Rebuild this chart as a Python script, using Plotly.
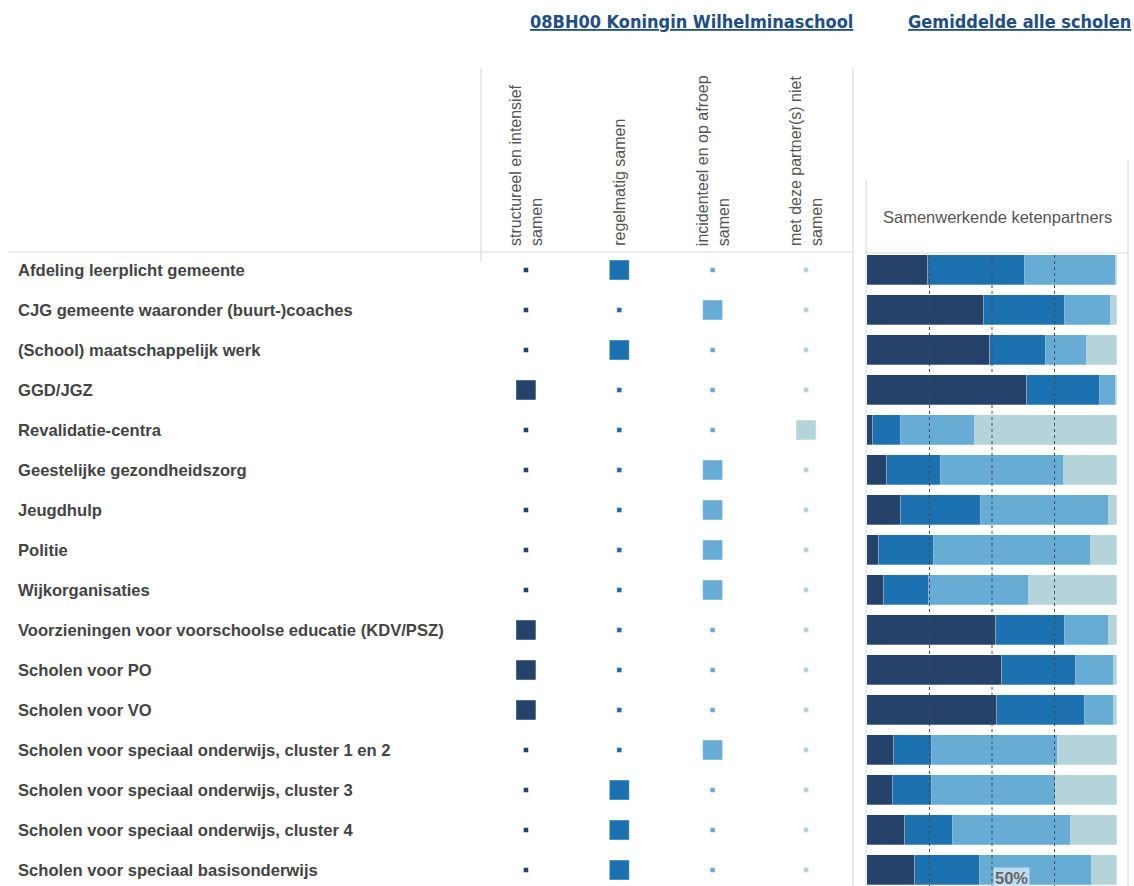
import plotly.graph_objects as go

W, H = 1134, 886

partners = [
    "Afdeling leerplicht gemeente",
    "CJG gemeente waaronder (buurt-)coaches",
    "(School) maatschappelijk werk",
    "GGD/JGZ",
    "Revalidatie-centra",
    "Geestelijke gezondheidszorg",
    "Jeugdhulp",
    "Politie",
    "Wijkorganisaties",
    "Voorzieningen voor voorschoolse educatie (KDV/PSZ)",
    "Scholen voor PO",
    "Scholen voor VO",
    "Scholen voor speciaal onderwijs, cluster 1 en 2",
    "Scholen voor speciaal onderwijs, cluster 3",
    "Scholen voor speciaal onderwijs, cluster 4",
    "Scholen voor speciaal basisonderwijs",
]

categories = [
    "structureel en intensief<br>samen",
    "regelmatig samen",
    "incidenteel en op afroep<br>samen",
    "met deze partner(s) niet<br>samen",
]

# answer of the school: index into categories
school_answer = [1, 2, 1, 0, 3, 2, 2, 2, 2, 0, 0, 0, 2, 1, 1, 1]

# average of all schools (%)
avg_structureel = [24.5, 46.7, 49.1, 64.1, 2.5, 8.0, 13.5, 4.9, 6.8, 51.5, 53.9, 52.0, 10.9, 10.4, 15.2, 19.3]
avg_regelmatig = [38.5, 32.6, 22.4, 29.1, 11.0, 21.7, 32.0, 21.8, 18.1, 27.8, 29.7, 35.2, 15.1, 15.6, 19.3, 26.0]
avg_incidenteel = [36.5, 18.2, 16.4, 6.3, 29.6, 49.0, 51.4, 62.9, 40.0, 17.6, 15.2, 11.6, 50.3, 49.7, 47.2, 44.8]
avg_niet = [0.5, 2.5, 12.1, 0.5, 56.9, 21.3, 3.1, 10.4, 35.1, 3.1, 1.2, 1.2, 23.7, 24.3, 18.3, 9.9]

reference_lines = [25, 50, 75]

colors = ["#25426B", "#1C72B1", "#67ACD5", "#B5D4DA"]
grid_col = "#DCDCDC"


def px(x):
    return x / W


def py(y):
    return 1 - y / H


n = len(partners)
rows = list(range(n))

fig = go.Figure()

# school markers
for c in range(4):
    sizes = [20 if a == c else 5 for a in school_answer]
    fig.add_trace(go.Scatter(
        x=[c] * n, y=rows, mode="markers",
        marker=dict(symbol="square", size=sizes, color=colors[c], opacity=1,
                    line=dict(width=1, color="rgba(255,255,255,0.45)")),
        xaxis="x", yaxis="y", hoverinfo="skip", showlegend=False,
    ))

# average bars
for vals, col in zip([avg_structureel, avg_regelmatig, avg_incidenteel, avg_niet], colors):
    fig.add_trace(go.Bar(
        x=vals, y=rows, orientation="h", width=0.75,
        marker=dict(color=col, line=dict(width=0.8, color="rgba(255,255,255,0.35)")),
        xaxis="x2", yaxis="y", hoverinfo="skip", showlegend=False,
    ))

shapes = []
# reference dotted lines
for r in reference_lines:
    shapes.append(dict(type="line", xref="x2", yref="y", x0=r, x1=r, y0=-0.375, y1=15.45,
                       line=dict(color="#4A4A4A", width=1, dash="dot")))


def hline(y, x0, x1):
    shapes.append(dict(type="line", xref="paper", yref="paper", x0=px(x0), x1=px(x1),
                       y0=py(y), y1=py(y), line=dict(color=grid_col, width=1.2), layer="below"))


def vline(x, y0, y1):
    shapes.append(dict(type="line", xref="paper", yref="paper", x0=px(x), x1=px(x),
                       y0=py(y0), y1=py(y1), line=dict(color=grid_col, width=1.2), layer="below"))


hline(252, 8, 853)
vline(481, 68, 262)
vline(853, 68, 886)
vline(866, 180, 886)
vline(1128, 160, 886)
hline(253, 866, 1128)

annotations = []
title_font = dict(family="DejaVu Sans Condensed", size=18, color="#1F4E85", lineposition="under")
annotations.append(dict(text="<b>08BH00 Koningin Wilhelminaschool</b>", x=px(691), y=py(22),
                        xref="paper", yref="paper", showarrow=False, xanchor="center", yanchor="middle",
                        font=title_font))
annotations.append(dict(text="<b>Gemiddelde alle scholen</b>", x=px(1019), y=py(22),
                        xref="paper", yref="paper", showarrow=False, xanchor="center", yanchor="middle",
                        font=title_font))
annotations.append(dict(text="Samenwerkende ketenpartners", x=px(997), y=py(217), xref="paper", yref="paper",
                        showarrow=False, xanchor="center", yanchor="middle",
                        font=dict(family="Liberation Sans", size=16.5, color="#555555")))

# column headers (rotated)
for c, label in enumerate(categories):
    annotations.append(dict(text=label, x=c, y=py(248), xref="x", yref="paper",
                            showarrow=False, textangle=-90, align="left",
                            xanchor="center", yanchor="bottom",
                            font=dict(family="Liberation Sans", size=16, color="#555555")))

# row labels
for i, name in enumerate(partners):
    annotations.append(dict(text="<b>" + name + "</b>", x=px(16), y=i, xref="paper", yref="y",
                            showarrow=False, xanchor="left", yanchor="middle",
                            font=dict(family="Liberation Sans", size=16.6, color="#444444")))

# 50% reference label
annotations.append(dict(text="<b>50%</b>", x=50.5, y=15.2, xref="x2", yref="y",
                        showarrow=False, xanchor="left", yanchor="middle",
                        bgcolor="rgba(205,228,242,0.85)", borderpad=1,
                        font=dict(family="Liberation Sans", size=16.5, color="#666666")))

fig.update_layout(
    width=W, height=H,
    margin=dict(l=0, r=0, t=0, b=0),
    paper_bgcolor="white", plot_bgcolor="white",
    barmode="stack", bargap=0,
    showlegend=False,
    xaxis=dict(domain=[px(482), px(852)], range=[-0.471, 3.493], visible=False, fixedrange=True),
    xaxis2=dict(domain=[px(866), px(1128)], range=[-0.4, 104.4], visible=False, fixedrange=True),
    yaxis=dict(domain=[0, py(250)], range=[15.4, -0.5], visible=False, fixedrange=True),
    shapes=shapes,
    annotations=annotations,
)

fig.write_html("out.html", config={"displayModeBar": False},
               post_script="document.body.style.margin='0';")
